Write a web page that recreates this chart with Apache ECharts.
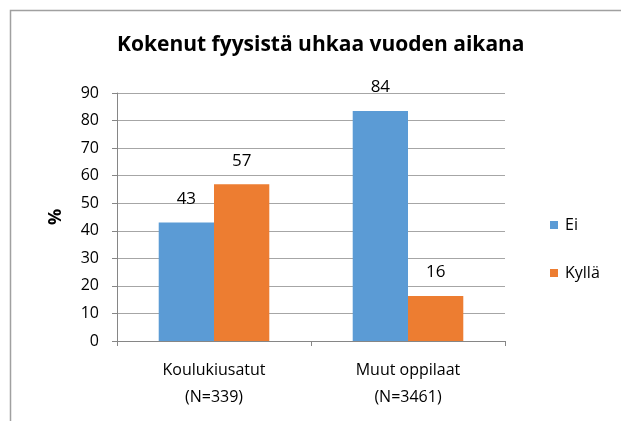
<!DOCTYPE html>
<html>
<head>
<meta charset="utf-8">
<script src="https://cdn.jsdelivr.net/npm/echarts@6/dist/echarts.min.js"></script>
<style>
  html, body { margin: 0; padding: 0; background: #fff; }
  #chart { width: 621px; height: 421px; }
</style>
</head>
<body>
<div id="chart"></div>
<script>
const categories = ['Koulukiusatut\n(N=339)', 'Muut oppilaat\n(N=3461)'];
const eiValues = [43.0, 83.5];
const kyllaValues = [56.9, 16.3];
const yTicks = { min: 0, max: 90, interval: 10 };

const font = '"Open Sans", sans-serif';
const chart = echarts.init(document.getElementById('chart'));

const labelStyle = {
  show: true,
  position: 'top',
  distance: 15,
  fontFamily: font,
  fontSize: 17,
  color: '#000',
  formatter: p => Math.round(p.value)
};

chart.setOption({
  animation: false,
  graphic: [{
    type: 'rect',
    left: 8, top: 8,
    shape: { width: 660, height: 460 },
    style: { fill: 'none', stroke: '#a0a0a0', lineWidth: 1.5 },
    silent: true
  }],
  title: {
    text: 'Kokenut fyysistä uhkaa vuoden aikana',
    left: 112,
    top: 30,
    textStyle: { fontFamily: font, fontSize: 21, fontWeight: 'bold', color: '#000' }
  },
  legend: {
    orient: 'vertical',
    left: 545,
    top: 212,
    itemWidth: 8,
    itemHeight: 8,
    itemGap: 32,
    icon: 'rect',
    textStyle: { fontFamily: font, fontSize: 16, color: '#000', padding: [0, 0, 0, 2] },
    data: ['Ei', 'Kyllä']
  },
  grid: { left: 117, right: 116, top: 93, bottom: 80 },
  xAxis: {
    type: 'category',
    data: categories,
    axisLine: { lineStyle: { color: '#868686' } },
    axisTick: { show: true, length: 5, lineStyle: { color: '#868686' } },
    axisLabel: { fontFamily: font, fontSize: 16, color: '#000', lineHeight: 27, margin: 16 }
  },
  yAxis: {
    type: 'value',
    min: yTicks.min,
    max: yTicks.max,
    interval: yTicks.interval,
    name: '%',
    nameLocation: 'middle',
    nameGap: 52,
    nameTextStyle: { fontFamily: font, fontSize: 18, fontWeight: 'bold', color: '#000' },
    axisLine: { show: true, lineStyle: { color: '#868686' } },
    axisTick: { show: true, length: 5, lineStyle: { color: '#868686' } },
    axisLabel: { fontFamily: font, fontSize: 16, color: '#000', margin: 18 },
    splitLine: { lineStyle: { color: '#a6a6a6' } }
  },
  series: [
    {
      name: 'Ei',
      type: 'bar',
      data: eiValues,
      barGap: '0%',
      barCategoryGap: '43%',
      itemStyle: { color: '#5B9BD5' },
      label: labelStyle
    },
    {
      name: 'Kyllä',
      type: 'bar',
      data: kyllaValues,
      itemStyle: { color: '#ED7D31' },
      label: labelStyle
    }
  ]
});
</script>
</body>
</html>
